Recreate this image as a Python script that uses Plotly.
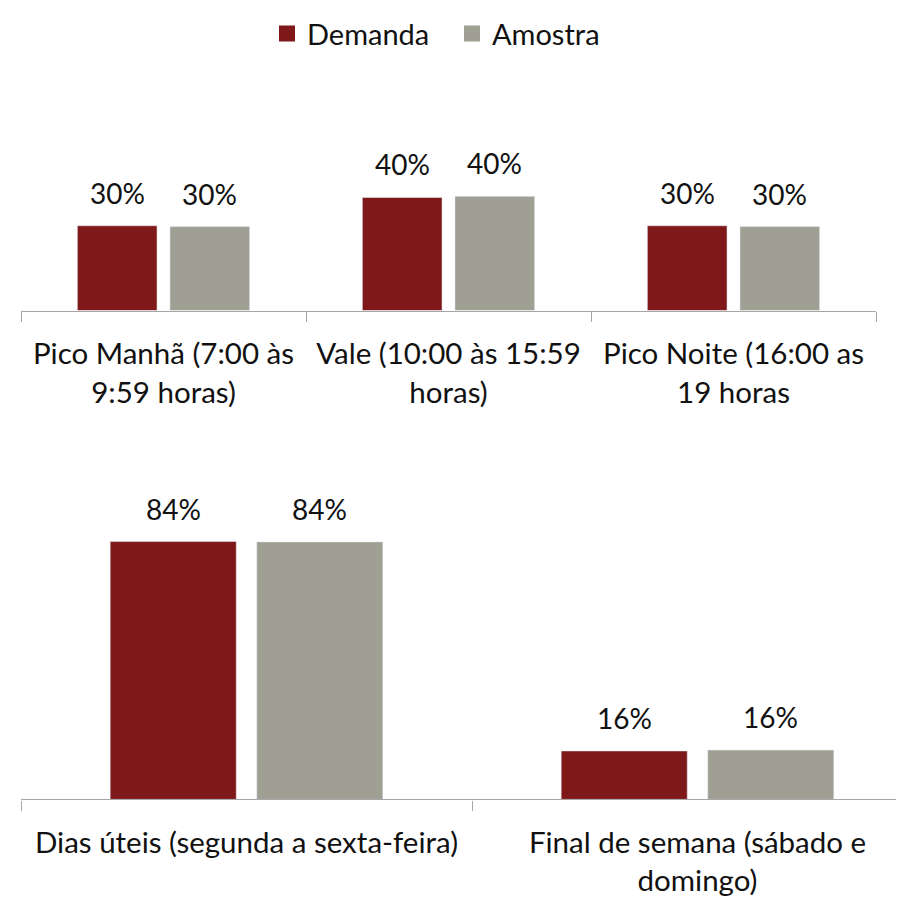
import plotly.graph_objects as go

# ---- data ----
periodos = ["Pico Manhã (7:00 às<br>9:59 horas)", "Vale (10:00 às 15:59<br>horas)", "Pico Noite (16:00 as<br>19 horas"]
demanda_periodo = [30.0, 40.0, 30.0]
amostra_periodo = [29.7, 40.4, 29.7]

dias = ["Dias úteis (segunda a sexta-feira)", "Final de semana (sábado e<br>domingo)"]
demanda_dias = [84.2, 15.8]
amostra_dias = [84.1, 16.1]

series_names = ["Demanda", "Amostra"]
colors = ["#7F1819", "#A09F93"]

# page body has an 8px margin: figure sits at (8,8)
OFF = 8
W, H = 904 - OFF, 897 - OFF
FONT = "Lato"
FS = 28
TFS = 29.5
LFS = 29
BARGAP = 0.35
GROUPGAP = 0.14


def px_x(v):
    return (v - OFF) / W


def px_y(v):
    return 1 - (v - OFF) / H


# geometry (window pixels)
top_x0, top_x1 = 21, 876
top_axis_y, top_top_y = 308, 164.5
bot_x0, bot_x1 = 21, 904
bot_cat_w = 451
bot_axis_y, bot_top_y = 804, 493.3

top_range = [0, 50]
bot_range = [0, 100]
bot_xrange = [-0.5, -0.5 + (bot_x1 - bot_x0) / bot_cat_w]

fig = go.Figure()
fig.add_trace(go.Bar(x=periodos, y=demanda_periodo, name=series_names[0], marker_color=colors[0],
                     xaxis="x", yaxis="y", showlegend=False))
fig.add_trace(go.Bar(x=periodos, y=amostra_periodo, name=series_names[1], marker_color=colors[1],
                     xaxis="x", yaxis="y", showlegend=False))
fig.add_trace(go.Bar(x=dias, y=demanda_dias, name=series_names[0], marker_color=colors[0],
                     xaxis="x2", yaxis="y2", showlegend=False))
fig.add_trace(go.Bar(x=dias, y=amostra_dias, name=series_names[1], marker_color=colors[1],
                     xaxis="x2", yaxis="y2", showlegend=False))
# legend entries (square swatches)
for nm, col in zip(series_names, colors):
    fig.add_trace(go.Scatter(x=[None], y=[None], mode="markers", name=nm,
                             marker=dict(symbol="square", size=18, color=col),
                             xaxis="x", yaxis="y", showlegend=True))

# value labels
annotations = []
top_cat_w = (top_x1 - top_x0) / len(periodos)
top_shift = top_cat_w * (1 - BARGAP) / 4
bot_shift = bot_cat_w * (1 - BARGAP) / 4
for cats, vals_list, xr, yr, sh in [
    (periodos, [demanda_periodo, amostra_periodo], "x", "y", top_shift),
    (dias, [demanda_dias, amostra_dias], "x2", "y2", bot_shift),
]:
    for si, vals in enumerate(vals_list):
        for c, v in zip(cats, vals):
            annotations.append(dict(
                x=c, y=v, xref=xr, yref=yr, text=f"{v:.0f}%", showarrow=False,
                xshift=(-sh if si == 0 else sh), yshift=33, yanchor="middle",
                font=dict(family=FONT, size=FS, color="#111111"),
            ))

axis_common = dict(
    showline=True, linecolor="#A6A6A6", linewidth=1.3,
    ticks="outside", tickson="boundaries", ticklen=10, tickcolor="#A6A6A6", tickwidth=1.3,
    tickfont=dict(family=FONT, size=TFS, color="#111111"), ticklabelstandoff=17,
    showgrid=False, zeroline=False, fixedrange=True, tickangle=0,
)

fig.update_layout(
    width=W, height=H,
    margin=dict(l=0, r=0, t=0, b=0),
    paper_bgcolor="white", plot_bgcolor="white",
    barmode="group", bargap=BARGAP, bargroupgap=GROUPGAP,
    font=dict(family=FONT, size=FS, color="#111111"),
    xaxis=dict(domain=[px_x(top_x0), px_x(top_x1)], anchor="y", **axis_common),
    yaxis=dict(domain=[px_y(top_axis_y), px_y(top_top_y)], range=top_range, visible=False,
               anchor="x", fixedrange=True),
    xaxis2=dict(domain=[px_x(bot_x0), px_x(bot_x1)], anchor="y2", range=bot_xrange, **axis_common),
    yaxis2=dict(domain=[px_y(bot_axis_y), px_y(bot_top_y)], range=bot_range, visible=False,
                anchor="x2", fixedrange=True),
    legend=dict(orientation="h", x=px_x(452), xanchor="center", y=px_y(27), yanchor="middle",
                font=dict(family=FONT, size=LFS, color="#111111"), itemclick=False,
                itemwidth=30, tracegroupgap=0, entrywidth=140, entrywidthmode="pixels"),
    annotations=annotations,
    showlegend=True,
)

fig.write_html("out.html")
